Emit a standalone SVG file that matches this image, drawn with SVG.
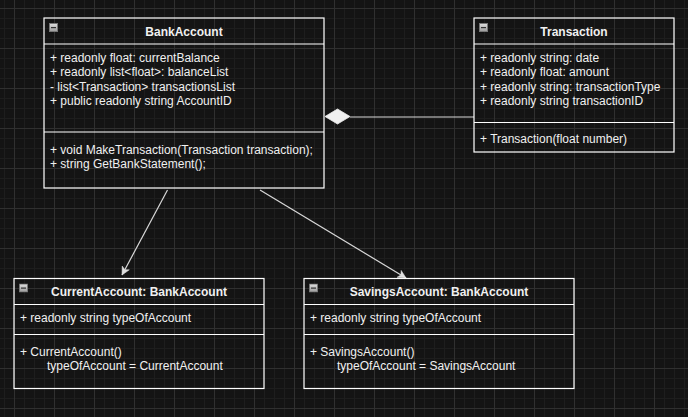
<svg xmlns="http://www.w3.org/2000/svg" width="688" height="417" viewBox="0 0 688 417">
  <defs>
    <pattern id="minor" x="4" y="8" width="10" height="10" patternUnits="userSpaceOnUse">
      <path d="M0.5 0 V10 M0 0.5 H10" stroke="#1e1e1e" stroke-width="1" fill="none"/>
    </pattern>
    <pattern id="major" x="14" y="8" width="40" height="40" patternUnits="userSpaceOnUse">
      <path d="M0.5 0 V40 M0 0.5 H40" stroke="#303030" stroke-width="1" fill="none"/>
    </pattern>
    <linearGradient id="btn" x1="0" y1="0" x2="0" y2="1">
      <stop offset="0" stop-color="#e0e0e0"/>
      <stop offset="1" stop-color="#9a9a9a"/>
    </linearGradient>
    <symbol id="minus" viewBox="0 0 9 9" width="9" height="9">
      <rect x="0.5" y="0.5" width="8" height="8" fill="url(#btn)" stroke="#777" stroke-width="1"/>
      <rect x="2" y="4" width="5" height="1.2" fill="#333"/>
    </symbol>
    <marker id="arrow" markerWidth="10" markerHeight="10" refX="9" refY="5" orient="auto" markerUnits="userSpaceOnUse">
      <path d="M1 1 L9 5 L1 9 L3 5 Z" fill="#e0e0e0" stroke="#e0e0e0" stroke-width="0.5"/>
    </marker>
    <style>
      .box { fill: none; stroke: #ffffff; stroke-width: 1.2; }
      .sep { stroke: #ffffff; stroke-width: 1.2; }
      .title { font-family: "Liberation Sans", Arial, sans-serif; font-size: 12px; font-weight: bold; fill: #f0f0f0; text-anchor: middle; }
      .txt { font-family: "Liberation Sans", Arial, sans-serif; font-size: 12px; fill: #f0f0f0; }
      .conn { stroke: #d8d8d8; stroke-width: 1.2; fill: none; }
    </style>
  </defs>

  <rect width="688" height="417" fill="#141414"/>
  <rect width="688" height="417" fill="url(#minor)"/>
  <rect width="688" height="417" fill="url(#major)"/>

  <g id="connectors">
    <line class="conn" x1="167.5" y1="190" x2="122" y2="275" marker-end="url(#arrow)"/>
    <line class="conn" x1="260" y1="190" x2="406" y2="278" marker-end="url(#arrow)"/>
    <line class="conn" x1="350" y1="117" x2="474" y2="117"/>
    <path d="M325 116.5 L337.5 109 L350 116.5 L337.5 124 Z" fill="#f0f0f0" stroke="#f0f0f0" stroke-width="0.8"/>
  </g>

  <g id="BankAccount">
    <rect class="box" x="44" y="18" width="280" height="170"/>
    <line class="sep" x1="44" y1="44" x2="324" y2="44"/>
    <line class="sep" x1="44" y1="132" x2="324" y2="132"/>
    <use href="#minus" x="49" y="23"/>
    <text class="title" x="184" y="36">BankAccount</text>
    <text class="txt" x="50" y="62">+ readonly float: currentBalance</text>
    <text class="txt" x="50" y="76">+ readonly list&lt;float&gt;: balanceList</text>
    <text class="txt" x="50" y="91">- list&lt;Transaction&gt; transactionsList</text>
    <text class="txt" x="50" y="105">+ public readonly string AccountID</text>
    <text class="txt" x="50" y="154">+ void MakeTransaction(Transaction transaction);</text>
    <text class="txt" x="50" y="168">+ string GetBankStatement();</text>
  </g>

  <g id="Transaction">
    <rect class="box" x="474" y="18" width="200" height="134"/>
    <line class="sep" x1="474" y1="44" x2="674" y2="44"/>
    <line class="sep" x1="474" y1="122.5" x2="674" y2="122.5"/>
    <use href="#minus" x="479" y="23"/>
    <text class="title" x="574" y="36">Transaction</text>
    <text class="txt" x="480" y="62">+ readonly string: date</text>
    <text class="txt" x="480" y="76">+ readonly float: amount</text>
    <text class="txt" x="480" y="91">+ readonly string: transactionType</text>
    <text class="txt" x="480" y="105">+ readonly string transactionID</text>
    <text class="txt" x="480" y="143">+ Transaction(float number)</text>
  </g>

  <g id="CurrentAccount">
    <rect class="box" x="14" y="278.5" width="250" height="110"/>
    <line class="sep" x1="14" y1="304.5" x2="264" y2="304.5"/>
    <line class="sep" x1="14" y1="334.5" x2="264" y2="334.5"/>
    <use href="#minus" x="19" y="283.5"/>
    <text class="title" x="139" y="296">CurrentAccount: BankAccount</text>
    <text class="txt" x="20" y="322">+ readonly string typeOfAccount</text>
    <text class="txt" x="20" y="356">+ CurrentAccount()</text>
    <text class="txt" x="47" y="370">typeOfAccount = CurrentAccount</text>
  </g>

  <g id="SavingsAccount">
    <rect class="box" x="304" y="278.5" width="270" height="110"/>
    <line class="sep" x1="304" y1="304.5" x2="574" y2="304.5"/>
    <line class="sep" x1="304" y1="334.5" x2="574" y2="334.5"/>
    <use href="#minus" x="309" y="283.5"/>
    <text class="title" x="439" y="296">SavingsAccount: BankAccount</text>
    <text class="txt" x="310" y="322">+ readonly string typeOfAccount</text>
    <text class="txt" x="310" y="356">+ SavingsAccount()</text>
    <text class="txt" x="337" y="370">typeOfAccount = SavingsAccount</text>
  </g>
</svg>
